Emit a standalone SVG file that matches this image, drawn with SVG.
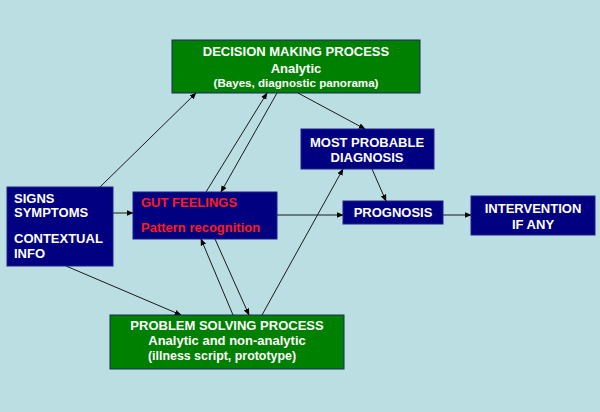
<svg xmlns="http://www.w3.org/2000/svg" width="600" height="412" viewBox="0 0 600 412">
<defs>
<style>
.nv{fill:#000080;stroke:#20208a;stroke-width:1}
.gr{fill:#008000;stroke:#1a2a5a;stroke-width:1}
text{font-family:"Liberation Sans",Arial,sans-serif;font-weight:bold;font-size:13px}
.w{fill:#ffffff}
.r{fill:#ff1a1a}
.c{text-anchor:middle}
.s{font-size:11.6px}
.s2{font-size:12.4px}
.ln{stroke:#1a1a1a;stroke-width:1;fill:none;marker-end:url(#ah)}
</style>
<marker id="ah" viewBox="0 0 10 10" refX="9" refY="5" markerWidth="7" markerHeight="7" markerUnits="userSpaceOnUse" orient="auto">
<path d="M0,1 L10,5 L0,9 Z" fill="#000"/>
</marker>
</defs>
<rect width="600" height="412" fill="#BBDEE3"/>
<g id="connectors">
<line class="ln" x1="100" y1="187" x2="196" y2="93"/>
<line class="ln" x1="113" y1="213" x2="133" y2="213"/>
<line class="ln" x1="66" y1="266" x2="181" y2="315"/>
<line class="ln" x1="206" y1="192" x2="267" y2="93"/>
<line class="ln" x1="277" y1="93" x2="221" y2="192"/>
<line class="ln" x1="233" y1="315" x2="201" y2="239"/>
<line class="ln" x1="215" y1="239" x2="249" y2="315"/>
<line class="ln" x1="262" y1="315" x2="343" y2="169"/>
<line class="ln" x1="298" y1="93" x2="365" y2="129"/>
<line class="ln" x1="372" y1="169" x2="386" y2="201"/>
<line class="ln" x1="277" y1="215" x2="343" y2="215"/>
<line class="ln" x1="443" y1="215" x2="471" y2="215"/>
</g>
<g id="decision">
<rect class="gr" x="172" y="40" width="248" height="53"/>
<text class="w c" x="296" y="56">DECISION MAKING PROCESS</text>
<text class="w c" x="296" y="73">Analytic</text>
<text class="w c s" x="296" y="87">(Bayes, diagnostic panorama)</text>
</g>
<g id="signs">
<rect class="nv" x="7" y="187" width="106" height="79"/>
<text class="w" x="14" y="203">SIGNS</text>
<text class="w" x="14" y="217">SYMPTOMS</text>
<text class="w" x="14" y="243">CONTEXTUAL</text>
<text class="w" x="14" y="258">INFO</text>
</g>
<g id="gut">
<rect class="nv" x="133" y="192" width="144" height="47"/>
<text class="r" x="141" y="207">GUT FEELINGS</text>
<text class="r" x="141" y="232">Pattern recognition</text>
</g>
<g id="mostprobable">
<rect class="nv" x="301" y="129" width="133" height="40"/>
<text class="w c" x="367" y="147">MOST PROBABLE</text>
<text class="w c" x="367" y="162">DIAGNOSIS</text>
</g>
<g id="prognosis">
<rect class="nv" x="343" y="201" width="100" height="23"/>
<text class="w c" x="393" y="217">PROGNOSIS</text>
</g>
<g id="intervention">
<rect class="nv" x="471" y="196" width="124" height="39"/>
<text class="w c" x="533" y="213">INTERVENTION</text>
<text class="w c" x="533" y="229">IF ANY</text>
</g>
<g id="problem">
<rect class="gr" x="110" y="315" width="234" height="54"/>
<text class="w c" x="227" y="330">PROBLEM SOLVING PROCESS</text>
<text class="w c" x="227" y="345">Analytic and non-analytic</text>
<text class="w c s2" x="222" y="360">(illness script, prototype)</text>
</g>
</svg>
